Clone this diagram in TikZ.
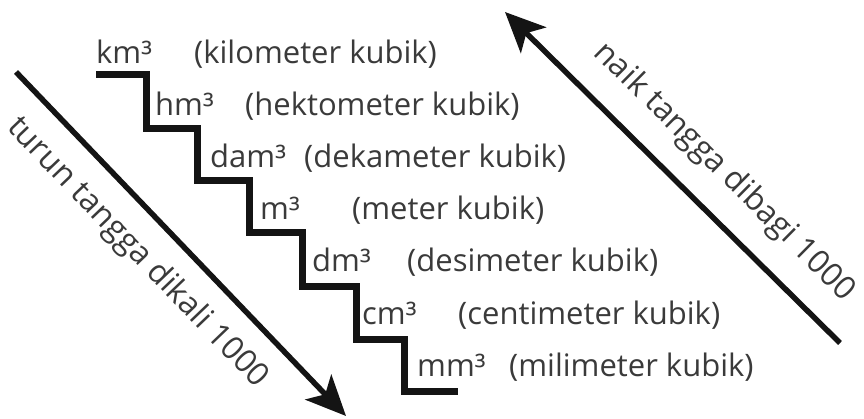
\documentclass[tikz,border=0pt]{standalone}
\usepackage{fontspec}
\setmainfont{Open Sans}
\usetikzlibrary{arrows.meta,positioning}

\definecolor{labelgray}{RGB}{58,58,58}
\definecolor{inkblack}{RGB}{20,20,20}

\tikzset{
  unit/.style={anchor=base west, inner sep=0pt, text=labelgray, font=\fontsize{31}{35}\selectfont},
  stair/.style={draw=inkblack, line width=7pt, line join=miter},
  bigarrow/.style={draw=inkblack, line width=5.5pt, -{Stealth[length=40pt, width=36pt, inset=10pt]}},
  sidelabel/.style={sloped, text=labelgray, font=\fontsize{32}{36}\selectfont, inner sep=0pt}
}

\begin{document}
\begin{tikzpicture}[x=1pt, y=-1pt]
\useasboundingbox (0,0) rectangle (864,419);

% Staircase
\draw[stair] (96,75) -| (146,129) -| (197,181) -| (249,233) -| (302,287)
  -| (356,339) -| (404,391) -- (458,391);

% Units, one per step
\node[unit] (km) at (96,64) {km³};
\node[unit] (kmdesc) at (194,64) {(kilometer kubik)};

\node[unit] (hm) at (155,116) {hm³};
\node[unit] (hmdesc) at (245,116) {(hektometer kubik)};

\node[unit] (dam) at (210,168) {dam³};
\node[unit] (damdesc) at (304,168) {(dekameter kubik)};

\node[unit] (m) at (260,220) {m³};
\node[unit] (mdesc) at (352,220) {(meter kubik)};

\node[unit] (dm) at (312,272) {dm³};
\node[unit] (dmdesc) at (407,272) {(desimeter kubik)};

\node[unit] (cm) at (362,324) {cm³};
\node[unit] (cmdesc) at (458,324) {(centimeter kubik)};

\node[unit] (mm) at (417,376) {mm³};
\node[unit] (mmdesc) at (509,376) {(milimeter kubik)};

% Going down: multiply
\coordinate (downtop) at (16,72);
\coordinate (downend) at (346,416);
\draw[bigarrow] (downtop) -- (downend)
  node[sidelabel, pos=0.45, below=19pt] (downlabel) {turun tangga dikali 1000};

% Going up: divide
\coordinate (uptop) at (505,12);
\coordinate (upend) at (840,343);
\draw[bigarrow] (upend) -- (uptop);
\path (uptop) -- (upend)
  node[sidelabel, pos=0.57, above=24pt] (uplabel) {naik tangga dibagi 1000};
\end{tikzpicture}
\end{document}
